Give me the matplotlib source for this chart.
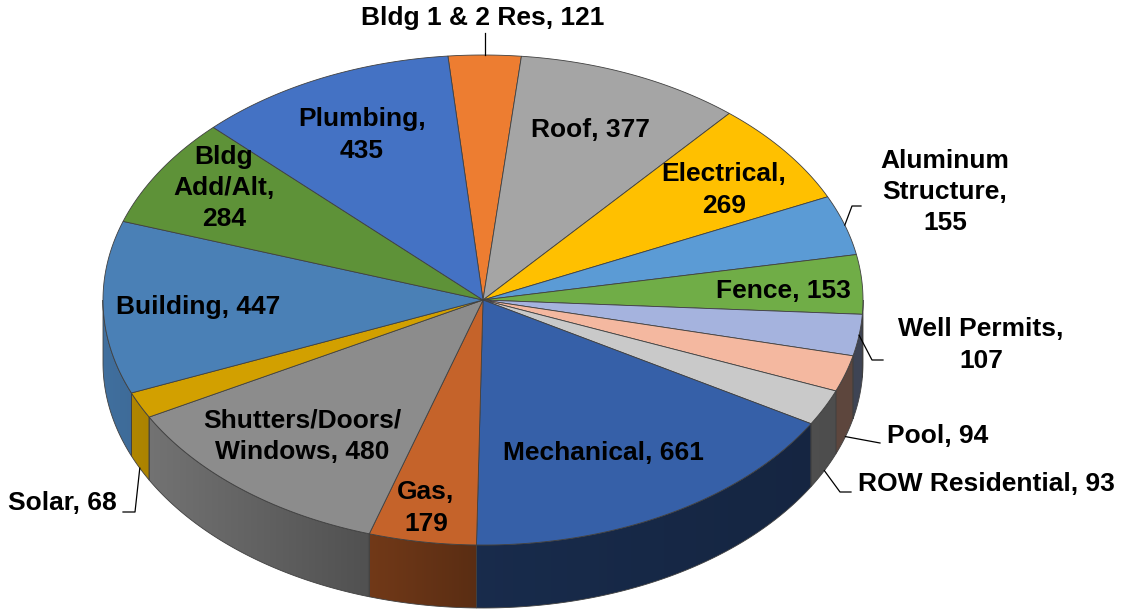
import numpy as np
import matplotlib.pyplot as plt
from matplotlib.patches import Polygon
from matplotlib.colors import to_rgb

# Permit counts, clockwise from the top
names = ["Bldg 1 & 2 Res", "Roof", "Electrical", "Aluminum\nStructure", "Fence",
         "Well Permits", "Pool", "ROW Residential", "Mechanical", "Gas",
         "Shutters/Doors/\nWindows", "Solar", "Building", "Bldg\nAdd/Alt", "Plumbing"]
values = [121, 377, 269, 155, 153, 107, 94, 93, 661, 179, 480, 68, 447, 284, 435]
colors = ["#ED7D31", "#A5A5A5", "#FFC000", "#5B9BD5", "#70AD47",
          "#A5B3DE", "#F4B8A0", "#C9C9C9", "#3660A8", "#C5632A",
          "#8C8C8C", "#D2A000", "#4A80B6", "#5E9238", "#4472C4"]

# label text layout: (x, y, ha, text sep)
label_pos = [(483, 18, "center", " "), (590, 130, "center", " "), (724, 190, "center", "\n"),
             (945, 192, "center", "\n"), (783, 291, "center", " "), (981, 345, "center", "\n"),
             (887, 436, "left", " "), (858, 484, "left", " "), (603, 453, "center", " "),
             (426, 508, "center", "\n"), (302, 436, "center", " "), (117, 503, "right", " "),
             (198, 307, "center", " "), (224, 188, "center", "\n"), (362, 135, "center", "\n")]
# leader lines for outside labels: index -> (start on bottom edge?, points after the start)
leaders = {0: (False, [(None, 33)]), 3: (False, [(852, 206), (861, 206)]),
           5: (False, [(872, 360), (883, 360)]), 6: (True, [(880, 443)]),
           7: (True, [(840, 492), (851, 492)]), 11: (True, [(135, 512), (123, 512)])}

cx, cy, a, b, depth = 483, 300, 380, 245, 63
start = -5.3

fig = plt.figure(figsize=(11.24, 6.11), dpi=100)
ax = fig.add_axes([0, 0, 1, 1])
ax.set_xlim(0, 1124)
ax.set_ylim(611, 0)
ax.axis("off")

total = sum(values)
spans = np.array(values) / total * 360
starts = start + np.concatenate([[0], np.cumsum(spans)[:-1]])


def pt(t, dy=0):
    r = np.radians(t)
    return cx + a * np.sin(r), cy - b * np.cos(r) + dy


def shade(u):
    return np.where(u < 0, 0.45 - 0.42 * u, 0.45 - 0.07 * u)


edge = "#404040"

# side walls (front half only), shaded left to right
for s, w, c in zip(starts, spans, colors):
    lo, hi = max(s, 90), min(s + w, 270)
    if hi <= lo:
        continue
    ts = np.linspace(lo, hi, max(2, int((hi - lo) / 0.5) + 1))
    outline = [pt(t) for t in ts] + [pt(t, depth) for t in ts[::-1]]
    xs = [p[0] for p in outline]
    ys = [p[1] for p in outline]
    x0, x1 = min(xs) - 1, max(xs) + 1
    gx = np.linspace(x0, x1, 200)
    base = np.array(to_rgb(c))
    img = np.clip(base[None, None, :] * shade((gx - cx) / a)[None, :, None], 0, 1)
    clip = Polygon(outline, closed=True, fc="none", ec=edge, lw=0.6)
    ax.add_patch(clip)
    im = ax.imshow(img, extent=(x0, x1, max(ys) + 1, min(ys) - 1), aspect="auto",
                   interpolation="bilinear", zorder=1)
    im.set_clip_path(clip)
    clip.set_zorder(1.5)

ax.set_xlim(0, 1124)
ax.set_ylim(611, 0)

# top face
for s, w, c in zip(starts, spans, colors):
    ts = np.linspace(s, s + w, max(2, int(w / 0.5) + 1))
    poly = [(cx, cy)] + [pt(t) for t in ts]
    ax.add_patch(Polygon(poly, closed=True, fc=c, ec=edge, lw=0.6, zorder=2))

# labels
for i, (n, v) in enumerate(zip(names, values)):
    x, y, ha, sep = label_pos[i]
    ax.text(x, y, f"{n},{sep}{v}", ha=ha, va="center", fontsize=19,
            fontweight="bold", family="Liberation Sans", linespacing=1.37,
            multialignment="center", zorder=4)

for i, (bottom, pts) in leaders.items():
    mid = starts[i] + spans[i] / 2
    x0, y0 = pt(mid, depth if bottom else 0)
    xs, ys = [x0], [y0]
    for px, py in pts:
        xs.append(x0 if px is None else px)
        ys.append(py)
    ax.plot(xs, ys, color="black", lw=0.9, zorder=3)

fig.savefig("out.png", dpi=100)
